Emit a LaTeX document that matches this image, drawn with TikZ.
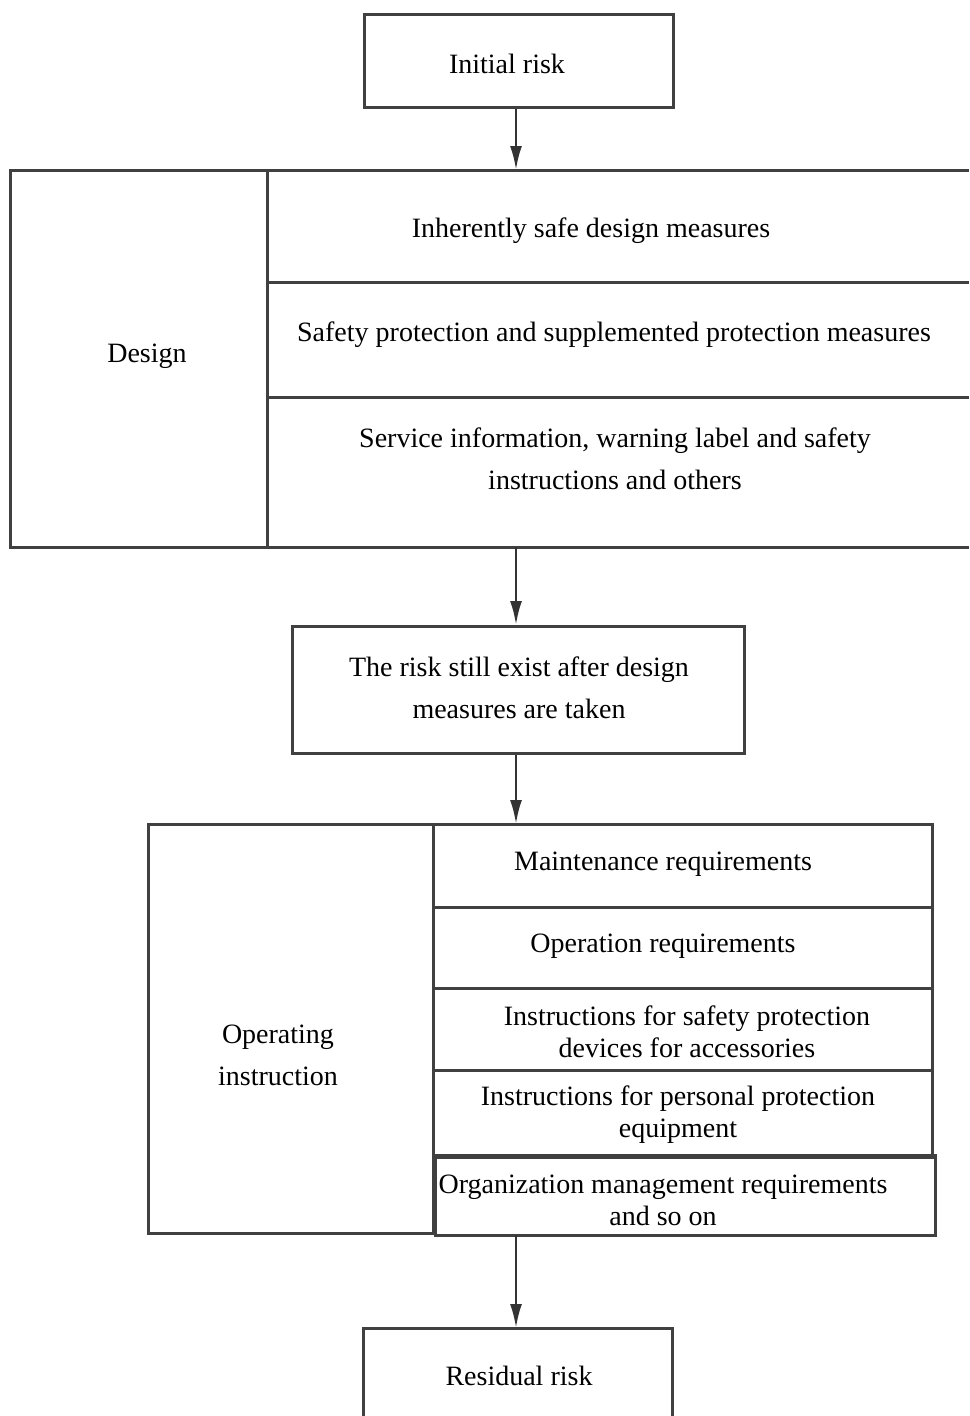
\documentclass[tikz,border=0pt]{standalone}
\usepackage{fontspec}
\setmainfont{Liberation Serif}
\usetikzlibrary{arrows.meta}
\newcommand{\fs}{\fontsize{28}{42}\selectfont}
\begin{document}
\begin{tikzpicture}[x=1pt,y=-1pt,
  ln/.style={draw=black!75, line width=3pt},
  lbl/.style={font=\fs, align=center, inner sep=0pt},
  arr/.style={-{Latex[length=24pt,width=12pt]}, line width=2.6pt, draw=black!80}]
\useasboundingbox (0,0) rectangle (969,1416);
% Initial risk
\node[ln, minimum width=309pt, minimum height=93pt, anchor=north west, inner sep=0pt] (init) at (363,13) {};
\node[lbl] (initt) at (507,64) {Initial risk};
% Design block
\coordinate (dtop) at (516,170);
\coordinate (dbot) at (516,547);
\draw[ln] (969,170) -- (10,170) -- (10,547) -- (969,547);
\draw[ln] (267,170) -- (267,547);
\draw[ln] (267,282) -- (969,282);
\draw[ln] (267,397) -- (969,397);
\node[lbl] (design) at (147,356) {Design};
\node[lbl] (d1) at (591,231) {Inherently safe design measures};
\node[lbl] (d2) at (614,335) {Safety protection and supplemented protection measures};
\node[lbl] (d3) at (615,459) {Service information, warning label and safety\\instructions and others};
% Middle box
\node[ln, minimum width=452pt, minimum height=127pt, anchor=north west, inner sep=0pt] (mid) at (291,625) {};
\node[lbl] (midt) at (519,688) {The risk still exist after design\\measures are taken};
% Operating block
\coordinate (otop) at (516,824);
\coordinate (obot) at (516,1235);
\draw[ln] (148,824) rectangle (433,1233);
\draw[ln] (433,824) rectangle (932,1157);
\draw[ln] (433,907) -- (932,907);
\draw[ln] (433,988) -- (932,988);
\draw[ln] (433,1070) -- (932,1070);
\draw[ln] (435,1155) rectangle (935,1235);
\node[lbl] (op) at (278,1055) {Operating\\instruction};
\node[lbl, font=\fontsize{28}{32}\selectfont] (o1) at (663,864) {Maintenance requirements};
\node[lbl, font=\fontsize{28}{32}\selectfont] (o2) at (663,946) {Operation requirements};
\node[lbl, font=\fontsize{28}{32}\selectfont] (o3) at (687,1032) {Instructions for safety protection\\devices for accessories};
\node[lbl, font=\fontsize{28}{32}\selectfont] (o4) at (678,1115) {Instructions for personal protection\\equipment};
\node[lbl, font=\fontsize{28}{32}\selectfont] (o5) at (663,1200) {Organization management requirements\\and so on};
% Residual risk
\coordinate (rtop) at (516,1328);
\draw[ln] (363,1422) -- (363,1328) -- (672,1328) -- (672,1422);
\node[lbl] (res) at (519,1376) {Residual risk};
% Arrows
\draw[arr] (init.south -| dtop) -- (dtop);
\draw[arr] (dbot) -- (mid.north -| dbot);
\draw[arr] (mid.south -| otop) -- (otop);
\draw[arr] (obot) -- (rtop);
\end{tikzpicture}
\end{document}
